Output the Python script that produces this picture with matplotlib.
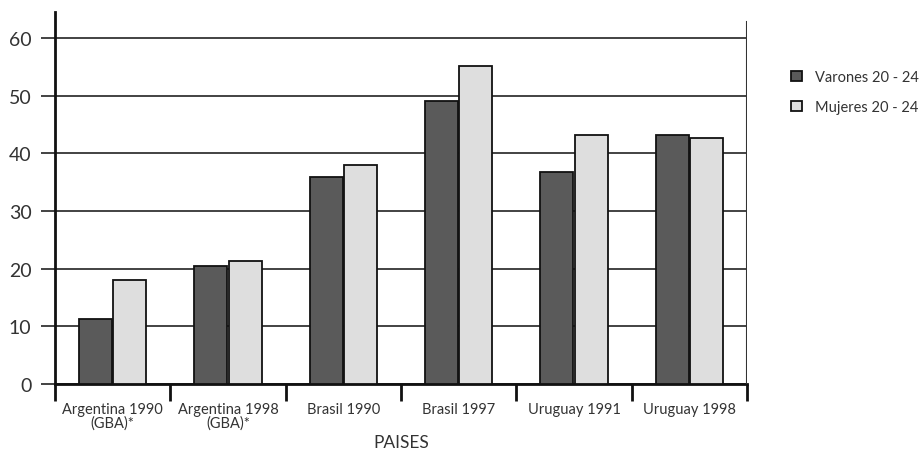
import numpy as np
import matplotlib.pyplot as plt

plt.rcParams['font.family'] = ['Lato', 'DejaVu Sans']

# data
paises = ['Argentina 1990\n(GBA)*', 'Argentina 1998\n(GBA)*', 'Brasil 1990',
          'Brasil 1997', 'Uruguay 1991', 'Uruguay 1998']
varones = [11.2, 20.4, 35.9, 49.0, 36.7, 43.2]
mujeres = [18.0, 21.3, 38.0, 55.2, 43.1, 42.6]
yticks = [0, 10, 20, 30, 40, 50, 60]

fig = plt.figure(figsize=(9.2, 4.52), dpi=100)
ax = fig.add_axes([55/920, 1 - 385/452, (747 - 55)/920, (385 - 13)/452])

x = np.arange(len(paises))
w = 0.285
off = 0.148
ax.bar(x - off, varones, w, color='#5a5a5a', edgecolor='#111111', linewidth=1.3,
       label='Varones 20 - 24', zorder=3)
ax.bar(x + off, mujeres, w, color='#dedede', edgecolor='#111111', linewidth=1.3,
       label='Mujeres 20 - 24', zorder=3)

ax.set_xlim(-0.5, len(paises) - 0.5)
ax.set_ylim(0, 64.5)
ax.set_yticks(yticks)
ax.yaxis.grid(True, color='#222222', linewidth=1.2, zorder=0)
ax.tick_params(axis='y', length=10, width=1.2, color='#222222', labelsize=14,
               pad=7, labelcolor='#333333')

ax.set_xticks(x)
ax.set_xticklabels(paises, fontsize=10.5, linespacing=0.95, color='#333333')
ax.set_xticks(np.arange(-0.5, len(paises)), minor=True)
ax.tick_params(axis='x', which='major', length=0, pad=13)
ax.tick_params(axis='x', which='minor', length=12, width=2, color='#111111')

for s in ['top', 'right']:
    ax.spines[s].set_visible(False)
ax.spines['left'].set_linewidth(2)
ax.spines['left'].set_color('#111111')
ax.spines['bottom'].set_linewidth(2)
ax.spines['bottom'].set_color('#111111')
ax.axvline(len(paises) - 0.5, ymin=0, ymax=62.7/64.5, color='#333333',
           linewidth=1.5, zorder=4)

ax.set_xlabel('PAISES', fontsize=12.5, color='#333333', labelpad=3)

fig.legend(loc='upper left', bbox_to_anchor=(778/920, 1 - 58/452), frameon=False,
           fontsize=10.5, handlelength=0.75, handleheight=0.75, labelspacing=1.1,
           handletextpad=0.9, labelcolor='#333333')

fig.savefig('out.png', dpi=100)
